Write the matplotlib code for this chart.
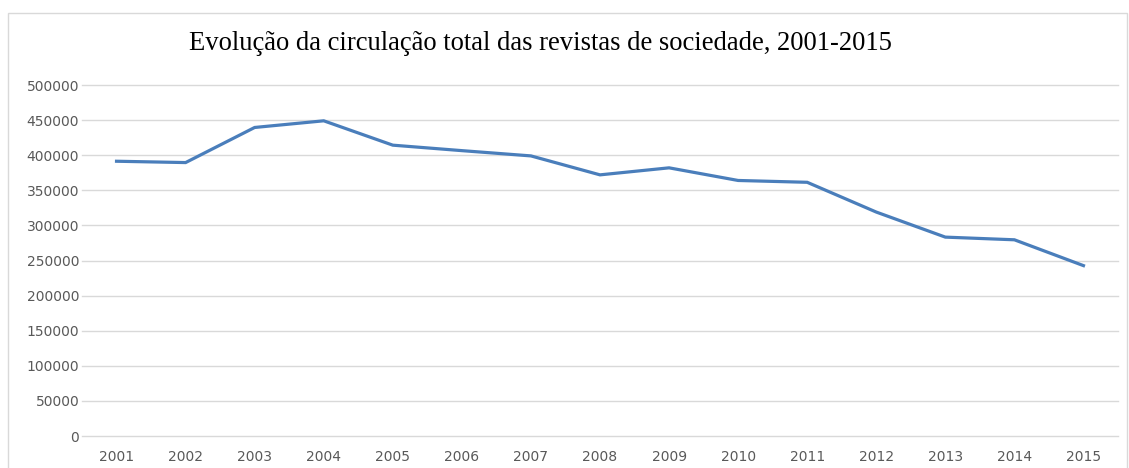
import matplotlib
matplotlib.use("Agg")
import matplotlib.pyplot as plt
from matplotlib.patches import Rectangle

# dados
anos = ['2001', '2002', '2003', '2004', '2005', '2006', '2007', '2008',
        '2009', '2010', '2011', '2012', '2013', '2014', '2015']
circulacao = [391400, 389500, 439500, 449000, 414300, 406500, 399000, 372000,
              382000, 364000, 361400, 319000, 283300, 279500, 242700]
yticks = [0, 50000, 100000, 150000, 200000, 250000, 300000, 350000, 400000, 450000, 500000]
titulo = 'Evolução da circulação total das revistas de sociedade, 2001-2015'

W, H = 1129, 468
fig = plt.figure(figsize=(W / 100, H / 100), dpi=100)
ax = fig.add_axes([82 / W, 1 - 436 / H, (1118 - 82) / W, (436 - 85) / H])

x = list(range(len(anos)))
ax.plot(x, circulacao, color='#4A7EBB', lw=2.3, solid_joinstyle='miter', zorder=3)

ax.set_xlim(-0.5, len(anos) - 0.5)
ax.set_ylim(0, 500000)
ax.set_yticks(yticks)
ax.set_yticklabels([str(v) for v in yticks])
ax.set_xticks(x)
ax.set_xticklabels(anos)
ax.yaxis.grid(True, color='#D9D9D9', lw=1.0)
for gl in ax.get_ygridlines():
    gl.set_clip_on(False)
ax.set_axisbelow(True)
for s in ax.spines.values():
    s.set_visible(False)
ax.tick_params(axis='both', length=0, labelsize=10, labelcolor='#595959')
ax.tick_params(axis='y', pad=2)
ax.tick_params(axis='x', pad=10)

fig.text(540 / W, 1 - 44 / H, titulo, ha='center', va='center',
         family='Liberation Serif', fontsize=19.2, color='black')

# moldura do grafico
fig.patches.append(Rectangle((8 / W, -0.05), (1127 - 8) / W, 1 - 13 / H + 0.05,
                             transform=fig.transFigure, fill=False,
                             edgecolor='#D9D9D9', lw=1.0))

fig.savefig('out.png', dpi=100)
